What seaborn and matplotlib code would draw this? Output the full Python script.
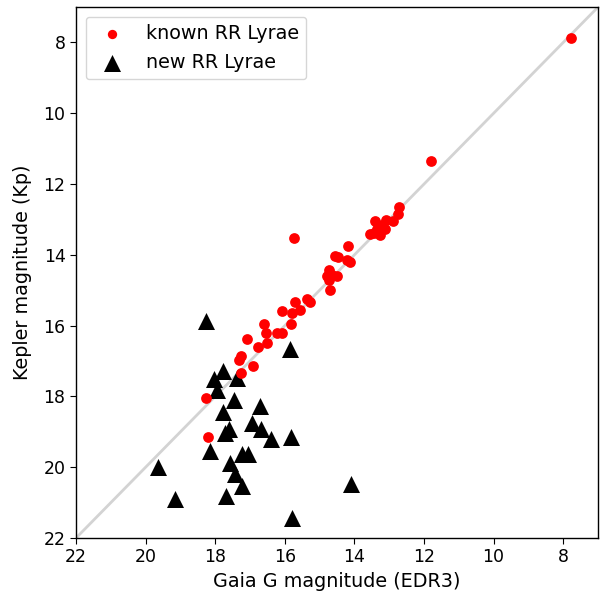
import matplotlib
matplotlib.use("Agg")
import matplotlib.pyplot as plt
import seaborn as sns
import pandas as pd

# known RR Lyrae: Gaia G (EDR3) vs Kepler Kp
known_g = [7.77, 11.81, 12.72, 12.76, 12.89, 13.08, 13.41, 13.22, 13.12, 13.36,
           13.55, 13.27, 13.30, 13.45, 15.75, 14.18, 14.57, 14.48, 14.20, 14.12,
           14.74, 14.79, 14.65, 14.50, 14.74, 14.71, 15.36, 15.29, 15.72, 16.08,
           15.79, 15.55, 15.82, 16.08, 16.59, 16.55, 16.22, 17.08, 16.76, 16.51,
           17.27, 17.33, 16.91, 17.27, 18.27, 18.21]
known_kp = [7.86, 11.35, 12.66, 12.85, 13.03, 13.01, 13.03, 13.15, 13.28, 13.28,
            13.41, 13.44, 13.35, 13.38, 13.52, 13.74, 14.03, 14.05, 14.14, 14.19,
            14.42, 14.59, 14.56, 14.61, 14.70, 14.99, 15.25, 15.34, 15.32, 15.60,
            15.64, 15.55, 15.95, 16.20, 15.95, 16.21, 16.21, 16.37, 16.61, 16.49,
            16.86, 16.96, 17.15, 17.33, 18.05, 19.16]

# new RR Lyrae
new_g = [18.27, 15.86, 17.79, 18.03, 17.36, 17.96, 17.46, 16.70, 17.79, 16.93,
         17.60, 17.71, 16.67, 16.41, 15.81, 18.15, 17.22, 17.05, 17.58, 17.43,
         17.24, 17.70, 19.63, 19.15, 15.79, 14.11]
new_kp = [15.88, 16.66, 17.29, 17.52, 17.47, 17.82, 18.10, 18.27, 18.44, 18.76,
          18.93, 19.04, 18.93, 19.21, 19.16, 19.54, 19.63, 19.63, 19.87, 20.20,
          20.53, 20.81, 20.00, 20.90, 21.44, 20.48]

xticks = [22, 20, 18, 16, 14, 12, 10, 8]
yticks = [8, 10, 12, 14, 16, 18, 20, 22]

known = pd.DataFrame({"g": known_g, "kp": known_kp})
new = pd.DataFrame({"g": new_g, "kp": new_kp})

sns.set_style("ticks")
plt.rcParams["font.family"] = ["DejaVu Sans"]
plt.rcParams["text.color"] = "black"
plt.rcParams["axes.labelcolor"] = "black"
plt.rcParams["xtick.color"] = "black"
plt.rcParams["ytick.color"] = "black"

fig = plt.figure(figsize=(6.01, 5.92), dpi=100)
ax = fig.add_axes([0.1265, 0.0912, 0.8685, 0.8968])

ax.axline((10, 10), slope=1, color="lightgray", lw=2, zorder=1)

sns.scatterplot(data=known, x="g", y="kp", color="red", marker="o", s=60,
                linewidth=0, label="known RR Lyrae", ax=ax, zorder=3)
sns.scatterplot(data=new, x="g", y="kp", color="black", marker="^", s=150,
                linewidth=0, label="new RR Lyrae", ax=ax, zorder=2)

ax.set_xlim(22, 7)
ax.set_ylim(22, 7)
ax.set_xticks(xticks)
ax.set_yticks(yticks)
ax.tick_params(labelsize=12.5, direction="out", length=4, color="black",
               labelcolor="black")
for s in ax.spines.values():
    s.set_visible(True)
    s.set_color("black")
    s.set_linewidth(1)

ax.set_xlabel("Gaia G magnitude (EDR3)", fontsize=13.75, color="black")
ax.set_ylabel("Kepler magnitude (Kp)", fontsize=13.75, color="black", labelpad=8)

leg = ax.legend(loc="upper left", fontsize=13.75, frameon=True, framealpha=0.8,
                edgecolor="#cccccc", fancybox=True, handletextpad=0.75)
handles = leg.legend_handles
handles[0].set_sizes([45])
handles[1].set_sizes([150])

fig.savefig("out.png", dpi=100)
